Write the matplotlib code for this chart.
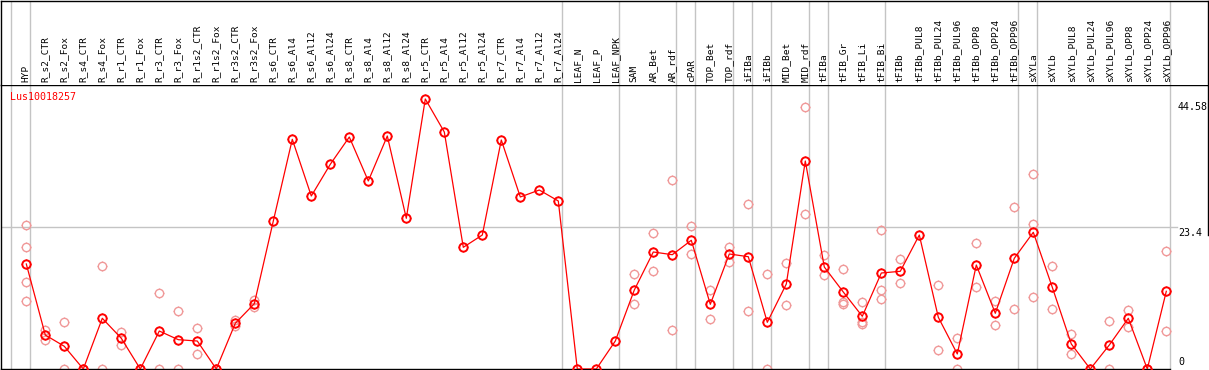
import matplotlib
matplotlib.use("Agg")
import matplotlib.pyplot as plt
from matplotlib.path import Path
from matplotlib.transforms import blended_transform_factory

# 1. Data
labels = ['HYP', 'R_s2_CTR', 'R_s2_Fox', 'R_s4_CTR', 'R_s4_Fox', 'R_r1_CTR', 'R_r1_Fox',
          'R_r3_CTR', 'R_r3_Fox', 'R_r1s2_CTR', 'R_r1s2_Fox', 'R_r3s2_CTR', 'R_r3s2_Fox',
          'R_s6_CTR', 'R_s6_Al4', 'R_s6_Al12', 'R_s6_Al24', 'R_s8_CTR', 'R_s8_Al4',
          'R_s8_Al12', 'R_s8_Al24', 'R_r5_CTR', 'R_r5_Al4', 'R_r5_Al12', 'R_r5_Al24',
          'R_r7_CTR', 'R_r7_Al4', 'R_r7_Al12', 'R_r7_Al24', 'LEAF_N', 'LEAF_P', 'LEAF_NPK',
          'SAM', 'AR_Bet', 'AR_rdf', 'cPAR', 'TOP_Bet', 'TOP_rdf', 'iFIBa', 'iFIBb',
          'MID_Bet', 'MID_rdf', 'tFIBa', 'tFIB_Gr', 'tFIB_Li', 'tFIB_Bi', 'tFIBb',
          'tFIBb_PUL8', 'tFIBb_PUL24', 'tFIBb_PUL96', 'tFIBb_OPP8', 'tFIBb_OPP24',
          'tFIBb_OPP96', 'sXYLa', 'sXYLb', 'sXYLb_PUL8', 'sXYLb_PUL24', 'sXYLb_PUL96',
          'sXYLb_OPP8', 'sXYLb_OPP24', 'sXYLb_OPP96']

mean_vals = [17.34, 5.61, 3.75, 0, 8.37, 5.07, 0, 6.27, 4.84, 4.62, 0, 7.55, 10.78,
             24.43, 37.92, 28.56, 33.8, 38.3, 31.04, 38.47, 24.88, 44.58, 39.13, 20.09,
             22.12, 37.81, 28.4, 29.55, 27.74, 0, 0, 4.62,
             13.04, 19.32, 18.87, 21.25, 10.68, 18.99, 18.54, 7.71, 14.03, 34.34, 16.84,
             12.71, 8.7, 15.85, 16.13, 22.12, 8.54, 2.48, 17.17, 9.2, 18.28, 22.57,
             13.49, 4.13, 0, 3.96, 8.37, 0, 12.83]

rep_vals = [[23.72, 20.09, 14.31, 11.17], [6.44, 4.73], [7.71, 0], [0, 0], [16.95, 0],
            [6.05, 4.0], [0, 0], [12.5, 0], [9.52, 0], [6.71, 2.42], [0, 0], [8.09, 7.1],
            [11.39, 10.24], [], [], [], [], [], [], [], [], [], [], [], [], [], [], [], [],
            [], [], [],
            [15.63, 10.68], [22.41, 16.13], [31.16, 6.39], [23.56, 18.94], [12.99, 8.25],
            [20.14, 17.72], [27.19, 9.52], [15.63, 0], [17.45, 10.52], [43.22, 25.54],
            [18.82, 15.47], [16.45, 11.0, 10.68], [11.0, 7.71, 7.49], [22.9, 12.99, 11.5],
            [18.11, 14.15], [], [13.81, 3.08], [5.07, 0], [20.75, 13.49], [11.17, 7.21],
            [26.7, 9.85], [32.16, 23.89, 11.83], [16.95, 9.85], [5.78, 2.42], [0],
            [7.87, 0], [9.74, 6.88], [0], [19.43, 6.27]]

group_ends = [-1, 0, 28, 31, 34, 35, 37, 38, 39, 41, 42, 45, 52, 53, 60]
axis_ticks = [44.58, 23.4, 0]
gene = 'Lus10018257'

# 2. Layout (pixel based)
W, H = 1209, 370
def box(x0, y0, x1, y1):
    return [x0 / W, 1 - y1 / H, (x1 - x0) / W, (y1 - y0) / H]

fig = plt.figure(figsize=(W / 100, H / 100), dpi=100)
ax = fig.add_axes(box(1, 85, 1208, 369))
lab = fig.add_axes(box(1, 0.5, 1208, 85))

x_lo, x_hi = (1 - 26.3) / 19, (1208 - 26.3) / 19
y_top = (369 - 85) / 6.057
for a in (ax, lab):
    a.set_xlim(x_lo, x_hi)
    a.set_xticks([]); a.set_yticks([])
    for s in a.spines.values():
        s.set_linewidth(1.0)
ax.set_ylim(0, y_top)
lab.set_ylim(0, 1)
lab.spines['bottom'].set_visible(False)
ax.spines['bottom'].set_bounds(x_lo, 60.21)
ax.spines['right'].set_bounds((369 - 235) / 6.057, y_top)

grey = '#c4c4c4'
for g in group_ends:
    ax.axvline(g + 0.21, color=grey, lw=1.0, zorder=1)
    lab.axvline(g + 0.21, color=grey, lw=1.0, zorder=1)
ax.axhline(23.4, xmax=(1177 - 1) / 1207, color=grey, lw=1.0, zorder=1)

# 3. Markers: open circle plus four short ticks around it
tick_path = Path([[1, 0], [1.3, 0], [-1, 0], [-1.3, 0],
                  [0, 1], [0, 1.3], [0, -1], [0, -1.3]],
                 [Path.MOVETO, Path.LINETO] * 4)
ms_circ = 6.0
ms_tick = ms_circ * 1.3

def ring(xv, yv, col, mew, z):
    ax.plot(xv, yv, ls='none', marker='o', ms=ms_circ, mfc='none', mec=col, mew=mew, zorder=z)
    ax.plot(xv, yv, ls='none', marker=tick_path, ms=ms_tick, mec=col, mew=0.8, zorder=z)

xs = list(range(len(labels)))
for i, reps in enumerate(rep_vals):
    if reps:
        ring([i] * len(reps), reps, '#f09898', 1.0, 2)
ax.plot(xs, mean_vals, color='red', lw=0.9, zorder=3)
ring(xs, mean_vals, 'red', 1.4, 4)

# 4. Text
font = 'DejaVu Sans Mono'
tr = blended_transform_factory(lab.transData, lab.transAxes)
for i, name in enumerate(labels):
    lab.text(i, 0.035, name, rotation=90, ha='center', va='bottom',
             fontsize=6.8, family=font, transform=tr)

ax.text((10 - 1) / 1207, 1 - (97 - 85) / 284, gene, color='red', fontsize=7.2,
        family=font, va='center', ha='left', transform=ax.transAxes)

# label centre offset below the value, in pixels
offsets = [7.7, 5.4, -7.0]
for v, off in zip(axis_ticks, offsets):
    ax.annotate(f'{v:g}', xy=((1178 - 1) / 1207, v), xycoords=('axes fraction', 'data'),
                xytext=(0, -off * 0.72), textcoords='offset points',
                va='center', ha='left', fontsize=7.2, family=font)

fig.savefig('out.png', dpi=100)
